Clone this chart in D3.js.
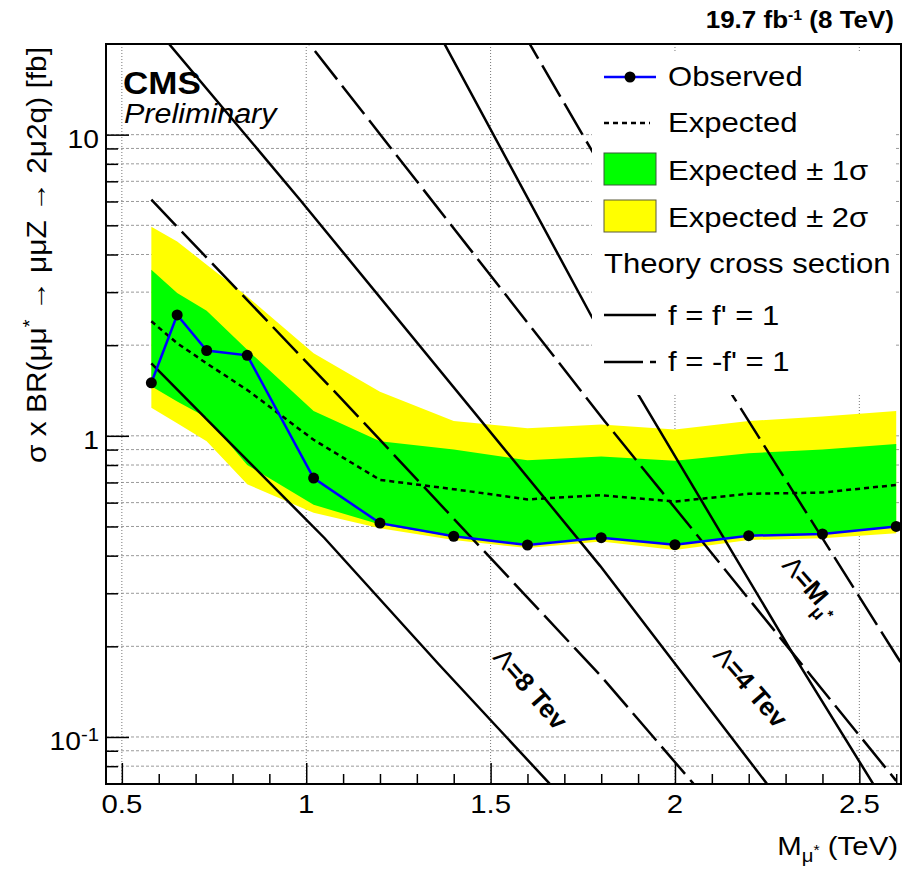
<!DOCTYPE html>
<html>
<head>
<meta charset="utf-8">
<script src="https://cdnjs.cloudflare.com/ajax/libs/d3/7.8.5/d3.min.js"></script>
<style>
body { margin: 0; background: #fff; }
text { font-family: "Liberation Sans", Arial, Helvetica, sans-serif; fill: #000; }
</style>
</head>
<body>
<script>
(function(){

//excited muon mass points (TeV)
var massPts = [0.58, 0.65, 0.73, 0.84, 1.02, 1.2, 1.4, 1.6, 1.8, 2.0, 2.2, 2.4, 2.6];
//limits on sigma x BR (fb)
var observed     = [1.50, 2.52, 1.92, 1.85, 0.724, 0.513, 0.464, 0.434, 0.459, 0.435, 0.466, 0.472, 0.50];
var expected     = [2.40, 2.03, 1.74, 1.42, 0.97, 0.714, 0.665, 0.615, 0.635, 0.605, 0.642, 0.648, 0.687];
var oneSigmaUp   = [3.56, 2.98, 2.60, 1.93, 1.21, 0.96, 0.90, 0.83, 0.854, 0.826, 0.876, 0.90, 0.94];
var oneSigmaDown = [1.46, 1.30, 1.15, 0.80, 0.59, 0.508, 0.462, 0.437, 0.460, 0.437, 0.468, 0.474, 0.50];
var twoSigmaUp   = [4.95, 4.42, 3.70, 2.90, 1.88, 1.40, 1.12, 1.06, 1.09, 1.05, 1.12, 1.16, 1.21];
var twoSigmaDown = [1.24, 1.10, 0.96, 0.69, 0.555, 0.493, 0.451, 0.424, 0.446, 0.418, 0.451, 0.457, 0.475];

//theory cross sections
var th8SolidMass  = [0.58, 0.80, 1.05, 1.36, 1.66];
var th8SolidXsec  = [1.74, 0.93, 0.457, 0.174, 0.070];
var th8DashMass   = [0.58, 1.09, 1.80, 2.05];
var th8DashXsec   = [6.08, 1.35, 0.159, 0.070];
var th4SolidMass  = [0.58, 0.983, 1.797, 2.249];
var th4SolidXsec  = [23.5, 6.08, 0.37, 0.070];
var th4DashMass   = [0.95, 1.81, 2.60];
var th4DashXsec   = [24.7, 1.116, 0.0715];
var thMSolidMass  = [1.35, 1.774, 2.33, 2.55];
var thMSolidXsec  = [22.8, 2.49, 0.18, 0.066];
var thMDashMass   = [1.58, 1.77, 2.158, 2.602, 2.62];
var thMDashXsec   = [22.7, 9.05, 1.35, 0.185, 0.171];

//axis ticks
var xMajorTicks = [0.5, 1, 1.5, 2, 2.5];
var xTickLabels = ["0.5", "1", "1.5", "2", "2.5"];
var xMinorTicks = [0.6, 0.7, 0.8, 0.9, 1.1, 1.2, 1.3, 1.4, 1.6, 1.7, 1.8, 1.9, 2.1, 2.2, 2.3, 2.4, 2.6];
var yMajorTicks = [0.1, 1, 10];
var yMinorTicks = [0.08, 0.09, 0.2, 0.3, 0.4, 0.5, 0.6, 0.7, 0.8, 0.9, 2, 3, 4, 5, 6, 7, 8, 9];

var legendLabels = ["Observed", "Expected", "Expected \u00b1 1\u03c3", "Expected \u00b1 2\u03c3",
    "Theory cross section", "f = f' = 1", "f = -f' = 1"];

//frame
var left = 106, right = 901, top = 44, bottom = 784;
var sx = 1.13; //horizontal text stretch of the original picture

var svg = d3.select("body").append("svg")
    .attr("width", 916)
    .attr("height", 869);

svg.append("rect").attr("width", 916).attr("height", 869).attr("fill", "#fff");

svg.append("defs").append("clipPath").attr("id", "plotClip")
    .append("rect")
    .attr("x", left).attr("y", top)
    .attr("width", right - left).attr("height", bottom - top);

var x = d3.scaleLinear().domain([0.457, 2.613]).range([left, right]);
var y = d3.scaleLog().domain([0.0698, 20]).range([bottom, top]);

//helper for stretched text
function stext(g, px, py, size){
    return g.append("text")
        .attr("transform", "translate(" + px + "," + py + ") scale(" + sx + ",1)")
        .style("font-size", size + "px");
}

//grid lines
var grid = svg.append("g").attr("clip-path", "url(#plotClip)");
grid.selectAll(".hgrid")
    .data(yMajorTicks.concat(yMinorTicks))
    .enter().append("line")
    .attr("class", "hgrid")
    .attr("x1", left).attr("x2", right)
    .attr("y1", function(d){ return y(d); })
    .attr("y2", function(d){ return y(d); })
    .attr("stroke", "#9a9a9a").attr("stroke-width", 1)
    .attr("stroke-dasharray", "3,2");
grid.selectAll(".vgrid")
    .data(xMajorTicks)
    .enter().append("line")
    .attr("class", "vgrid")
    .attr("y1", top).attr("y2", bottom)
    .attr("x1", function(d){ return x(d); })
    .attr("x2", function(d){ return x(d); })
    .attr("stroke", "#777").attr("stroke-width", 1)
    .attr("stroke-dasharray", "1,2");

var plot = svg.append("g").attr("clip-path", "url(#plotClip)");

//expected bands
function band(lo, hi){
    return d3.area()
        .x(function(d, i){ return x(massPts[i]); })
        .y0(function(d, i){ return y(lo[i]); })
        .y1(function(d, i){ return y(hi[i]); })(massPts);
}
plot.append("path").attr("d", band(twoSigmaDown, twoSigmaUp)).attr("fill", "#ffff00");
plot.append("path").attr("d", band(oneSigmaDown, oneSigmaUp)).attr("fill", "#00ff00");

var seriesLine = function(vals){
    return d3.line()
        .x(function(d, i){ return x(massPts[i]); })
        .y(function(d, i){ return y(vals[i]); })(massPts);
};

//expected median
plot.append("path")
    .attr("d", seriesLine(expected))
    .attr("fill", "none").attr("stroke", "#000")
    .attr("stroke-width", 2.5).attr("stroke-dasharray", "5,4");

//theory curves
var theoryCurves = [
    {m: th8SolidMass, s: th8SolidXsec, dash: null},
    {m: th8DashMass,  s: th8DashXsec,  dash: "36,8"},
    {m: th4SolidMass, s: th4SolidXsec, dash: null},
    {m: th4DashMass,  s: th4DashXsec,  dash: "36,8"},
    {m: thMSolidMass, s: thMSolidXsec, dash: null},
    {m: thMDashMass,  s: thMDashXsec,  dash: "36,8"}
];
theoryCurves.forEach(function(c){
    plot.append("path")
        .attr("d", d3.line()
            .x(function(d, i){ return x(c.m[i]); })
            .y(function(d, i){ return y(c.s[i]); })(c.m))
        .attr("fill", "none").attr("stroke", "#000")
        .attr("stroke-width", 2.5)
        .attr("stroke-dasharray", c.dash);
});

//observed
plot.append("path")
    .attr("d", seriesLine(observed))
    .attr("fill", "none").attr("stroke", "#0000ff").attr("stroke-width", 2.5);
plot.selectAll(".obs")
    .data(massPts)
    .enter().append("circle")
    .attr("class", "obs")
    .attr("cx", function(d){ return x(d); })
    .attr("cy", function(d, i){ return y(observed[i]); })
    .attr("r", 5.5)
    .attr("fill", "#000");

//curve labels
function lambdaLabel(px, py, rest){
    var t = svg.append("text")
        .attr("transform", "translate(" + px + "," + py + ") rotate(49)")
        .style("font-size", "26px");
    t.append("tspan").text("\u039b");
    t.append("tspan").style("font-weight", "bold").text(rest);
    return t;
}
lambdaLabel(492, 658, "=8 Tev");
lambdaLabel(712, 656, "=4 Tev");
var lm = lambdaLabel(781, 566, "=M");
lm.append("tspan").attr("dy", 9).style("font-size", "18px").style("font-weight", "bold").text("\u03bc");
lm.append("tspan").attr("dy", -8).style("font-size", "15px").style("font-weight", "bold").text("*");

//legend
var legend = svg.append("g");
legend.append("rect")
    .attr("x", 592).attr("y", 52).attr("width", 304).attr("height", 343)
    .attr("fill", "#fff");
var rowY = [77, 123, 169, 216, 263, 315, 362];
var base = [86, 132, 180, 227, 273, 325, 371];

legend.append("line").attr("x1", 604).attr("x2", 656).attr("y1", rowY[0]).attr("y2", rowY[0])
    .attr("stroke", "#0000ff").attr("stroke-width", 2.5);
legend.append("circle").attr("cx", 630).attr("cy", rowY[0]).attr("r", 5.5).attr("fill", "#000");
legend.append("line").attr("x1", 604).attr("x2", 650).attr("y1", rowY[1]).attr("y2", rowY[1])
    .attr("stroke", "#000").attr("stroke-width", 2.5).attr("stroke-dasharray", "5,4");
legend.append("rect").attr("x", 604).attr("y", rowY[2] - 16).attr("width", 52).attr("height", 32)
    .attr("fill", "#00ff00").attr("stroke", "#3a5a3a").attr("stroke-width", 1);
legend.append("rect").attr("x", 604).attr("y", rowY[3] - 16).attr("width", 52).attr("height", 32)
    .attr("fill", "#ffff00").attr("stroke", "#5a5a3a").attr("stroke-width", 1);
legend.append("line").attr("x1", 604).attr("x2", 656).attr("y1", rowY[5]).attr("y2", rowY[5])
    .attr("stroke", "#000").attr("stroke-width", 2.5);
legend.append("line").attr("x1", 604).attr("x2", 656).attr("y1", rowY[6]).attr("y2", rowY[6])
    .attr("stroke", "#000").attr("stroke-width", 2.5).attr("stroke-dasharray", "39,7");

legendLabels.forEach(function(lab, i){
    stext(legend, i == 4 ? 604 : 668, base[i], 27.5).text(lab);
});

//ticks
var axes = svg.append("g");
axes.append("g").attr("transform", "translate(0," + bottom + ")")
    .call(d3.axisBottom(x).tickValues(xMajorTicks).tickSize(-21).tickFormat(""));
axes.append("g").attr("transform", "translate(0," + bottom + ")")
    .call(d3.axisBottom(x).tickValues(xMinorTicks).tickSize(-10).tickFormat(""));
axes.append("g").attr("transform", "translate(" + left + ",0)")
    .call(d3.axisLeft(y).tickValues(yMajorTicks).tickSize(-23).tickFormat(""));
axes.append("g").attr("transform", "translate(" + left + ",0)")
    .call(d3.axisLeft(y).tickValues(yMinorTicks).tickSize(-12).tickFormat(""));
axes.selectAll(".domain").remove();
axes.selectAll(".tick line").attr("stroke", "#000").attr("stroke-width", 1.5);

//frame
svg.append("rect")
    .attr("x", left).attr("y", top)
    .attr("width", right - left).attr("height", bottom - top)
    .attr("fill", "none").attr("stroke", "#000").attr("stroke-width", 2);

//tick labels
xMajorTicks.forEach(function(v, i){
    stext(svg, x(v), 813, 26).attr("text-anchor", "middle").text(xTickLabels[i]);
});
stext(svg, 99, y(10) + 13, 25).attr("text-anchor", "end").text("10");
stext(svg, 99, y(1) + 13, 25).attr("text-anchor", "end").text("1");
var tm = stext(svg, 99, y(0.1) + 13, 25).attr("text-anchor", "end");
tm.append("tspan").text("10");
tm.append("tspan").attr("dy", -9).style("font-size", "18px").text("-1");

//axis titles
var xt = stext(svg, 898, 855, 26).attr("text-anchor", "end");
xt.append("tspan").text("M");
xt.append("tspan").attr("dy", 7).style("font-size", "18px").text("\u03bc");
xt.append("tspan").attr("dy", -7).style("font-size", "14px").text("*");
xt.append("tspan").attr("dy", 0).text(" (TeV)");

var yt = svg.append("text")
    .attr("transform", "translate(46,463) scale(" + sx + ",1) rotate(-90)")
    .attr("textLength", 416).attr("lengthAdjust", "spacingAndGlyphs")
    .style("font-size", "24px");
yt.append("tspan").text("\u03c3 x BR(\u03bc\u03bc");
yt.append("tspan").attr("dy", -9).style("font-size", "16px").text("*");
yt.append("tspan").attr("dy", 9).text(" \u2192 \u03bc\u03bcZ \u2192 2\u03bc2q) [fb]");

//CMS labels
stext(svg, 123, 94, 31).style("font-weight", "bold").text("CMS");
stext(svg, 124, 123, 27).style("font-style", "italic").text("Preliminary");

var lumi = stext(svg, 894, 28, 23).attr("text-anchor", "end").style("font-weight", "bold");
lumi.append("tspan").text("19.7 fb");
lumi.append("tspan").attr("dy", -8).style("font-size", "14px").text("-1");
lumi.append("tspan").attr("dy", 8).text(" (8 TeV)");

})();
</script>
</body>
</html>
